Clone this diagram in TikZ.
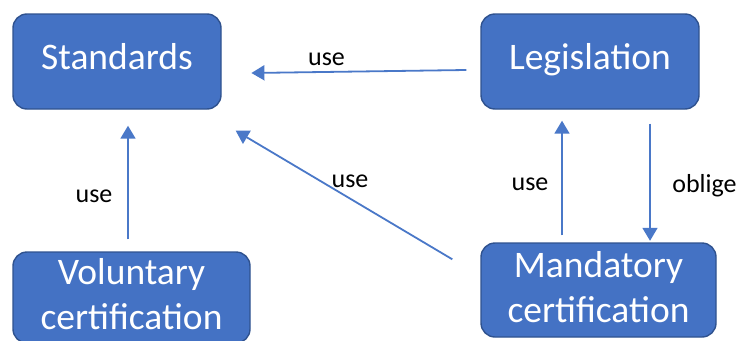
\documentclass[tikz,border=0pt]{standalone}
\usepackage{fontspec}
\setmainfont{Carlito}
\usetikzlibrary{arrows.meta,calc}

\definecolor{boxfill}{HTML}{4472C4}
\definecolor{boxline}{HTML}{2F528F}
\definecolor{linkcol}{HTML}{4A78C8}

\tikzset{
  block/.style={draw=boxline, line width=1.4pt, fill=boxfill, rounded corners=14pt,
    text=white, font=\fontsize{37.5}{45}\selectfont, align=center, inner sep=0pt},
  oneline/.style={text height=15pt, text depth=0pt},
  twoline/.style={text height=70pt, text depth=6pt},
  link/.style={draw=linkcol, line width=1.8pt, -{Triangle[length=13pt,width=15pt]}},
  tag/.style={anchor=base, inner sep=0pt, font=\fontsize{26}{30}\selectfont, text=black}
}

\begin{document}
\begin{tikzpicture}[x=1pt, y=-1pt]
  \useasboundingbox (0,0) rectangle (741,340);

  % boxes
  \node[block, oneline, minimum width=208pt, minimum height=95pt] (std) at (117,61.5) {Standards};
  \node[block, oneline, minimum width=218pt, minimum height=95pt] (leg) at (590,61.5) {Legislation};
  \node[block, twoline, minimum width=237pt, minimum height=91pt] (vol) at (131.5,297.5) {Voluntary\\certification};
  \node[block, twoline, minimum width=235pt, minimum height=94pt] (man) at (598.5,290) {Mandatory\\certification};

  % connectors
  \draw[link] ($(leg.west)+(-14,8.5)$) -- ($(std.east)+(29.7,11.5)$);
  \draw[link] ($(vol.north)+(-3.5,-12)$) -- ($(std.south)+(11,16)$);
  \draw[link] ($(man.north west)+(-28,17)$) -- ($(std.south east)+(14,21)$);
  \draw[link] ($(man.north)+(-36.5,-7)$) -- ($(leg.south)+(-28,11)$);
  \draw[link] ($(leg.south)+(60,14)$) -- ($(man.north)+(51.5,-1.5)$);

  % connector labels
  \node[tag] (t1) at (326.5,65) {use};
  \node[tag] (t2) at (94,202.7) {use};
  \node[tag] (t3) at (350,187) {use};
  \node[tag] (t4) at (530,190) {use};
  \node[tag] (t5) at (704.5,192) {oblige};
\end{tikzpicture}
\end{document}
